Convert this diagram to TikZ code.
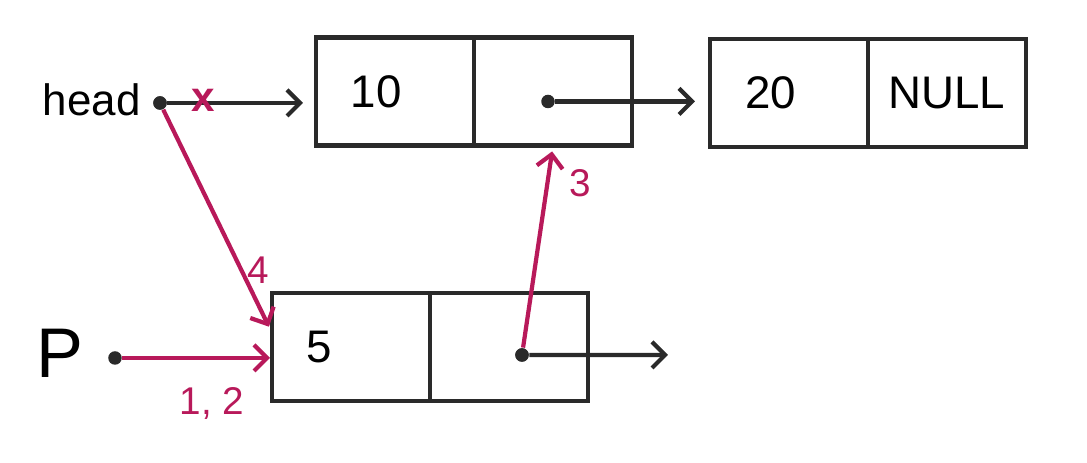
\documentclass[tikz,border=0pt]{standalone}
\usepackage{fontspec}
\setmainfont{Liberation Sans}
\usetikzlibrary{arrows.meta,calc,positioning}
\definecolor{Ink}{HTML}{2A2A2A}
\definecolor{Berry}{HTML}{B8195A}
\tikzset{
  cell/.style={
    rectangle, draw=Ink, line width=1.4pt, minimum width=1.58cm,
    minimum height=1.08cm, inner sep=0pt, outer sep=0pt,
    font=\fontsize{13}{15}\selectfont
  },
  datacell/.style={cell, text width=0.88cm, inner xsep=0.35cm, align=left},
  ptr/.style={circle, fill=Ink, minimum size=1.35mm, inner sep=0pt},
  link/.style={-{Straight Barb[length=1.3mm,width=2.6mm]}, line width=1.2pt, draw=Ink},
  step link/.style={-{Straight Barb[length=1.3mm,width=2.6mm]}, line width=1.2pt, draw=Berry},
  steplabel/.style={text=Berry, font=\fontsize{11}{13}\selectfont}
}

\begin{document}
\begin{tikzpicture}[node distance=0cm]
    \useasboundingbox (0,0) rectangle (10.87,4.63);
    % list nodes
    \node[datacell] (n1data) at (3.95,3.715) {10};
    \node[cell,right=of n1data] (n1next) {};
    \node[datacell] (n2data) at (7.89,3.70) {20};
    \node[cell,right=of n2data] (n2next) {NULL};
    \node[datacell] (pdata) at (3.51,1.16) {5};
    \node[cell,right=of pdata] (pnext) {};
    % pointers
    \node[font=\fontsize{12.5}{15}\selectfont,anchor=east] (head) at (1.53,3.63) {head};
    \node[ptr] (headdot) at (1.60,3.60) {};
    \node[font=\fontsize{20}{22}\selectfont] (p) at (0.60,1.10) {P};
    \node[ptr] (pdot) at (1.15,1.05) {};
    \node[ptr] (n1ptr) at ([xshift=-0.5mm,yshift=-1mm]n1next.center) {};
    \node[ptr] (pptr) at ([xshift=1.3mm,yshift=-0.8mm]pdata.east -| pnext.center) {};
    \coordinate (pend) at (6.68,1.08);
    % links
    \draw[link,shorten >=1.3mm] (headdot) -- (headdot -| n1data.west);
    \draw[link,shorten >=1.5mm] (n1ptr) -- (n1ptr -| n2data.west);
    \draw[link] (pptr) -- (pend);
    \node[steplabel,font=\fontsize{12}{14}\selectfont\bfseries] (cut) at (2.03,3.63) {x};
    % steps
    \draw[step link,shorten >=0.2mm] (pdot) -- (pdot -| pdata.west);
    \node[steplabel] (s12) at (2.12,0.60) {1, 2};
    \draw[step link,shorten >=0.7mm] (headdot) -- ([yshift=1.4mm]pdata.west);
    \node[steplabel] (s4) at (2.58,1.93) {4};
    \draw[step link,shorten >=0.6mm] (pptr) -- (n1next.south);
    \node[steplabel] (s3) at (5.80,2.80) {3};
    \node[ptr] at (headdot) {};
    \node[ptr] at (pptr) {};
\end{tikzpicture}
\end{document}
